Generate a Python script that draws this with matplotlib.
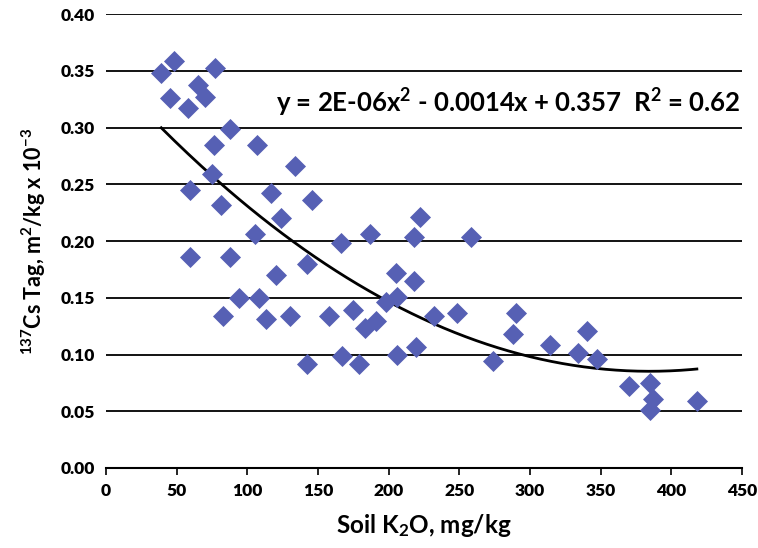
import numpy as np
import matplotlib
matplotlib.use('Agg')
import matplotlib.pyplot as plt

# Soil K2O (mg/kg) vs 137Cs Tag (m2/kg x 10^-3)
soil_k2o = [39, 48, 77, 65, 45, 70, 58, 88, 76, 107, 134, 75, 59, 117, 81, 146,
            222, 124, 105, 166, 187, 218,
            59, 88, 142, 120, 205, 218, 94, 108, 198, 206, 83, 113, 130, 158,
            175, 191, 183, 232, 142, 167, 179, 206, 219,
            258, 248, 290, 288, 274, 314, 340, 334, 347, 370, 385, 387, 385, 418]
cs_tag = [0.348, 0.359, 0.353, 0.338, 0.326, 0.327, 0.317, 0.299, 0.285, 0.285,
          0.266, 0.259, 0.245, 0.242, 0.232, 0.236, 0.221, 0.220, 0.206, 0.198,
          0.206, 0.204,
          0.186, 0.186, 0.180, 0.170, 0.172, 0.165, 0.150, 0.150, 0.146, 0.151,
          0.134, 0.131, 0.134, 0.134, 0.139, 0.130, 0.123, 0.134, 0.092, 0.099,
          0.092, 0.100, 0.107,
          0.204, 0.137, 0.137, 0.118, 0.094, 0.108, 0.121, 0.101, 0.096, 0.072,
          0.075, 0.061, 0.051, 0.059]

x_ticks = [0, 50, 100, 150, 200, 250, 300, 350, 400, 450]
y_ticks = [0.00, 0.05, 0.10, 0.15, 0.20, 0.25, 0.30, 0.35, 0.40]

plt.rcParams['font.family'] = ['Lato', 'DejaVu Sans']
plt.rcParams['mathtext.fontset'] = 'custom'
plt.rcParams['mathtext.rm'] = 'Lato:bold'
plt.rcParams['mathtext.it'] = 'Lato:bold'
plt.rcParams['mathtext.bf'] = 'Lato:bold'
plt.rcParams['mathtext.default'] = 'rm'

fig = plt.figure(figsize=(7.58, 5.48), dpi=100)
ax = fig.add_axes([0.140, 0.146, 0.839, 0.828])

ax.scatter(soil_k2o, cs_tag, marker='D', s=115, color='#5660B4', zorder=3,
           linewidths=0)

# 2nd order polynomial trendline
coef = np.polyfit(soil_k2o, cs_tag, 2)
xs = np.linspace(min(soil_k2o), max(soil_k2o), 200)
ax.plot(xs, np.polyval(coef, xs), color='black', lw=2, zorder=2)

ax.text(0.997, 0.805, 'y = 2E-06x$^{2}$ - 0.0014x + 0.357  R$^{2}$ = 0.62',
        transform=ax.transAxes, ha='right', va='center', fontsize=18.5,
        fontweight='bold')

ax.set_xlim(0, 450)
ax.set_ylim(0, 0.40)
ax.set_xticks(x_ticks)
ax.set_xticklabels([str(v) for v in x_ticks])
ax.set_yticks(y_ticks)
ax.set_yticklabels([f'{v:.2f}' for v in y_ticks])
ax.tick_params(axis='x', direction='out', length=5, width=1.2, labelsize=12.5, pad=6)
ax.tick_params(axis='y', length=0, labelsize=12.5, pad=8)
for lbl in ax.get_xticklabels() + ax.get_yticklabels():
    lbl.set_fontweight('heavy')

ax.grid(axis='y', color='black', lw=1.3)
ax.set_axisbelow(True)
for s in ['left', 'right', 'top']:
    ax.spines[s].set_visible(False)
ax.spines['bottom'].set_linewidth(1.5)

ax.set_xlabel('Soil K$_{2}$O, mg/kg', fontsize=17.5, fontweight='bold', labelpad=9)
ax.set_ylabel('$^{137}$Cs Tag, m$^{2}$/kg x 10$^{-3}$', fontsize=15.5,
              fontweight='bold', labelpad=9)

fig.savefig('out.png', dpi=100)
